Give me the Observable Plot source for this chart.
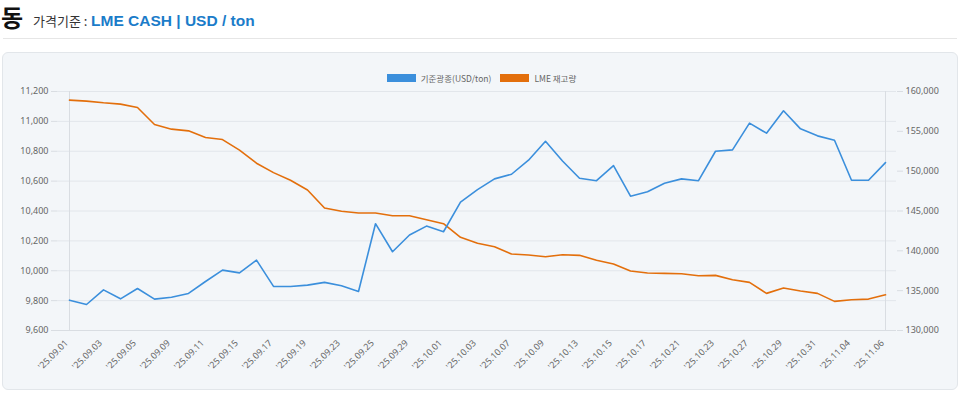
<!DOCTYPE html>
<html><head><meta charset="utf-8">
<script src="https://cdn.jsdelivr.net/npm/d3@7"></script>
<script src="https://cdn.jsdelivr.net/npm/@observablehq/plot@0.6"></script>
<style>
body{margin:0;background:#fff;width:960px;height:393px;position:relative;overflow:hidden;font-family:"Noto Sans","Noto Sans CJK KR",sans-serif}
.abs{position:absolute;white-space:nowrap}
#t1{left:1px;top:1px;font:bold 24px/32px "Noto Sans CJK KR";color:#111}
#t2{left:33px;top:11px;font:13px/20px "Noto Sans CJK KR";color:#333}
#t3{left:91px;top:11px;font:bold 15.5px/20px "Liberation Sans",Arial,sans-serif;color:#1b7cc9}
#hr{left:3px;top:38px;width:954px;height:1px;background:#e6e6e6}
#panel{left:2px;top:52px;width:954px;height:336px;background:#f3f6f9;border:1px solid #e2e6ea;border-radius:6px}
#legend{left:0;top:73px;width:960px;display:flex;justify-content:center;gap:6px;font:8.5px/10px "Noto Sans CJK KR";color:#666}
#legend span{display:inline-flex;align-items:center;margin-left:3px}
#legend i{display:inline-block;width:29px;height:8px;margin-right:5px}
#chart{left:0;top:85px}
</style></head>
<body>
<div class="abs" id="t1">동</div>
<div class="abs" id="t2">가격기준 :</div>
<div class="abs" id="t3">LME CASH | USD / ton</div>
<div class="abs" id="hr"></div>
<div class="abs" id="panel"></div>
<div class="abs" id="legend"></div>
<div class="abs" id="chart"></div>
<script>
const dates = ["25.09.01","25.09.02","25.09.03","25.09.04","25.09.05","25.09.08","25.09.09","25.09.10","25.09.11","25.09.12",
"25.09.15","25.09.16","25.09.17","25.09.18","25.09.19","25.09.22","25.09.23","25.09.24","25.09.25","25.09.26",
"25.09.29","25.09.30","25.10.01","25.10.02","25.10.03","25.10.06","25.10.07","25.10.08","25.10.09","25.10.10",
"25.10.13","25.10.14","25.10.15","25.10.16","25.10.17","25.10.20","25.10.21","25.10.22","25.10.23","25.10.24",
"25.10.27","25.10.28","25.10.29","25.10.30","25.10.31","25.11.03","25.11.04","25.11.05","25.11.06"];
const price = [9803,9774,9872,9812,9881,9810,9823,9848,9928,10004,
9986,10071,9895,9895,9904,9922,9899,9861,10315,10127,
10239,10299,10261,10460,10543,10615,10646,10740,10867,10735,
10619,10603,10704,10499,10529,10586,10615,10603,10800,10809,
10988,10921,11071,10950,10903,10874,10606,10606,10724];
const stock = [158919,158793,158580,158416,157989,155852,155274,155060,154218,153966,
152634,150999,149818,148863,147644,145381,144966,144752,144752,144413,
144413,143910,143408,141697,140943,140516,139598,139473,139260,139511,
139435,138807,138342,137462,137211,137173,137122,136871,136922,136369,
136042,134659,135325,134948,134659,133654,133855,133943,134483];
const leftTicks = [9600,9800,10000,10200,10400,10600,10800,11000,11200];
const rightTicks = [130000,135000,140000,145000,150000,155000,160000];
const seriesNames = ["기준광종(USD/ton)","LME 재고량"];
const colors = ["#3b8fdc","#e36f0c"];

const L0 = 9600, L1 = 11200, R0 = 130000, R1 = 160000;
const toLeft = v => L0 + (v - R0) * (L1 - L0) / (R1 - R0);
const toRight = v => R0 + (v - L0) * (R1 - R0) / (L1 - L0);
const rows = dates.map((d, i) => ({date: d, price: price[i], stock: stock[i]}));
const fmt = d3.format(",");

const leg = document.getElementById("legend");
seriesNames.forEach((n, i) => {
  const s = document.createElement("span");
  s.innerHTML = `<i style="background:${colors[i]}"></i>${n}`;
  leg.appendChild(s);
});

const chart = Plot.plot({
  width: 960, height: 300,
  marginLeft: 57, marginRight: 64, marginTop: 6, marginBottom: 55,
  style: {background: "transparent", fontFamily: "'Noto Sans', sans-serif"},
  x: {type: "point", domain: dates, padding: 0},
  y: {domain: [L0, L1]},
  marks: [
    Plot.gridY(leftTicks, {stroke: "#e2e6eb", strokeOpacity: 1}),
    Plot.ruleX([dates[0], dates[dates.length - 1]], {stroke: "#d9dde2"}),
    Plot.ruleY([L0], {stroke: "#d9dde2"}),
    Plot.axisY(leftTicks, {anchor: "left", tickSize: 6, tickPadding: 3, tickFormat: fmt, fontSize: 9, fill: "#666", stroke: "#d9dde2", label: null}),
    Plot.axisY(rightTicks.map(toLeft), {anchor: "right", tickSize: 6, tickPadding: 3, tickFormat: d => fmt(Math.round(toRight(d))), fontSize: 9, fill: "#666", stroke: "#d9dde2", label: null}),
    Plot.axisX(dates.filter((d, i) => i % 2 === 0), {tickRotate: -45, tickSize: 0, tickPadding: 10, dx: -3, dy: 1, tickFormat: d => "'" + d, fontSize: 9, fill: "#666", label: null}),
    Plot.line(rows, {x: "date", y: d => toLeft(d.stock), stroke: colors[1], strokeWidth: 1.6}),
    Plot.line(rows, {x: "date", y: "price", stroke: colors[0], strokeWidth: 1.6})
  ]
});
document.getElementById("chart").appendChild(chart);
</script>
</body></html>
